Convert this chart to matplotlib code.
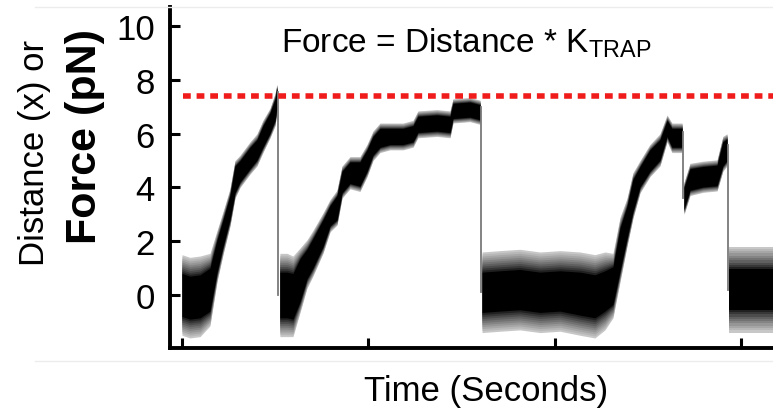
import matplotlib
matplotlib.use("Agg")
import matplotlib.pyplot as plt
from matplotlib.lines import Line2D

plt.rcParams["font.family"] = ["Liberation Sans", "DejaVu Sans"]
plt.rcParams["mathtext.fontset"] = "custom"
plt.rcParams["mathtext.rm"] = "Liberation Sans"

# trap force trace, one list set per pull (time in s, force in pN)
# mid = trace centre, core = half-width of the dense part, env = half-width of the noise envelope
pull1_t = [0.0, 0.43, 0.97, 1.50, 1.88, 2.20, 2.57, 2.84, 3.11, 3.65, 4.02, 4.34, 4.72, 4.99, 5.09]
pull1_mid = [0.0, -0.1, -0.05, 0.2, 1.45, 2.3, 3.25, 4.3, 4.6, 5.1, 5.4, 5.9, 6.4, 6.9, 7.35]
pull1_core = [0.8, 0.8, 0.8, 0.8, 0.6, 0.5, 0.45, 0.5, 0.4, 0.4, 0.38, 0.4, 0.38, 0.4, 0.35]
pull1_env = [1.5, 1.5, 1.5, 1.35, 0.95, 0.8, 0.7, 0.7, 0.6, 0.6, 0.6, 0.6, 0.55, 0.6, 0.5]

pull2_t = [5.25, 5.63, 5.95, 6.33, 6.70, 7.02, 7.56, 7.94, 8.31, 8.58, 9.01, 9.54, 9.92,
           10.24, 10.62, 11.15, 11.85, 12.39, 12.65, 13.67, 14.37, 14.53, 15.44, 15.98]
pull2_mid = [0.0, 0.0, -0.05, 0.55, 1.15, 1.55, 2.3, 2.95, 3.25, 4.2, 4.55, 4.5, 5.0,
             5.55, 5.85, 5.9, 5.9, 6.0, 6.35, 6.4, 6.35, 6.85, 6.9, 6.8]
pull2_core = [0.85, 0.85, 0.85, 0.8, 0.55, 0.55, 0.5, 0.38, 0.45, 0.4, 0.4, 0.45, 0.4,
              0.35, 0.35, 0.3, 0.3, 0.3, 0.3, 0.3, 0.3, 0.28, 0.28, 0.28]
pull2_env = [1.55, 1.55, 1.5, 1.2, 0.9, 0.85, 0.75, 0.6, 0.65, 0.6, 0.6, 0.65, 0.6,
             0.55, 0.55, 0.5, 0.5, 0.5, 0.5, 0.5, 0.5, 0.45, 0.45, 0.45]

pull3_t = [16.09, 17.05, 18.12, 19.20, 20.27, 21.34, 22.14, 22.68, 23.11, 23.49, 23.86,
           24.18, 24.56, 25.09, 25.63, 26.01, 26.27, 26.81]
pull3_mid = [0.1, 0.15, 0.2, 0.1, 0.15, 0.05, -0.05, 0.15, 0.35, 1.7, 2.7,
             3.7, 4.4, 5.0, 5.4, 6.2, 5.85, 5.85]
pull3_core = [0.75, 0.75, 0.75, 0.75, 0.75, 0.8, 0.8, 0.75, 0.7, 0.8, 0.6,
              0.6, 0.38, 0.4, 0.38, 0.3, 0.35, 0.35]
pull3_env = [1.5, 1.5, 1.5, 1.5, 1.5, 1.55, 1.55, 1.45, 1.2, 1.2, 0.9,
             0.85, 0.6, 0.6, 0.6, 0.5, 0.55, 0.55]

pull4_t = [26.92, 27.24, 27.94, 28.69, 29.00, 29.22]
pull4_mid = [3.6, 4.3, 4.4, 4.45, 5.25, 5.4]
pull4_core = [0.4, 0.4, 0.38, 0.38, 0.45, 0.4]
pull4_env = [0.6, 0.6, 0.58, 0.58, 0.65, 0.6]

rest_t = [29.33, 30.45, 31.69]
rest_mid = [0.2, 0.2, 0.2]
rest_core = [0.75, 0.75, 0.75]
rest_env = [1.6, 1.6, 1.6]

pieces = [
    (pull1_t, pull1_mid, pull1_core, pull1_env),
    (pull2_t, pull2_mid, pull2_core, pull2_env),
    (pull3_t, pull3_mid, pull3_core, pull3_env),
    (pull4_t, pull4_mid, pull4_core, pull4_env),
    (rest_t, rest_mid, rest_core, rest_env),
]

trap_limit = 7.4          # pN, dashed red line
limit_start = 0.05
y_ticks = [0, 2, 4, 6, 8, 10]
x_ticks = [0, 10, 20, 30]

# shade the band from light grey at the envelope to black at the core
n_shades = 10
shades = []
for i in range(n_shades + 1):
    frac = 1.0 - i / n_shades
    grey = 0.78 * frac ** 0.8
    shades.append((frac, (grey, grey, grey)))


fig = plt.figure(figsize=(7.73, 4.10), dpi=100)
ax = fig.add_axes([0.22, 0.149, 0.78, 0.831])

for t, mid, core, env in pieces:
    for frac, col in shades:
        w = [c + frac * (e - c) for c, e in zip(core, env)]
        lo = [m - h for m, h in zip(mid, w)]
        hi = [m + h for m, h in zip(mid, w)]
        ax.fill_between(t, lo, hi, color=col, lw=0)

# release / slip jumps between pulls
for (t_a, m_a, _, _), (t_b, m_b, _, _) in zip(pieces[:-1], pieces[1:]):
    tx = 0.5 * (t_a[-1] + t_b[0])
    ax.plot([tx, tx], [m_a[-1] + 0.2, m_b[0]], color="#7a7a7a", lw=1.3)

ax.plot([limit_start, 31.69], [trap_limit, trap_limit], color="#f01c1c",
        lw=4.0, linestyle=(0, (1.4, 1.05)), dash_capstyle="butt")

ax.set_xlim(-0.64, 31.69)
ax.set_ylim(-1.97, 10.71)
ax.set_yticks(y_ticks)
ax.set_xticks(x_ticks)
ax.set_xticklabels([])
ax.tick_params(axis="both", direction="in", length=7, width=2.2)
ax.tick_params(axis="y", labelsize=25, pad=11)
for side in ("top", "right"):
    ax.spines[side].set_visible(False)
for side in ("left", "bottom"):
    ax.spines[side].set_linewidth(2.8)

fig.text(0.603, 0.871, r"Force = Distance * $\mathregular{K_{TRAP}}$",
         fontsize=24, ha="center", va="baseline")
fig.text(0.629, 0.022, "Time (Seconds)", fontsize=25, ha="center", va="baseline")
fig.text(0.044, 0.627, "Distance (x) or", fontsize=25, rotation=90,
         ha="center", va="center")
fig.text(0.110, 0.666, "Force (pN)", fontsize=31, fontweight="bold",
         rotation=90, ha="center", va="center")

# faint frame rules above and below the panel
for yy in (1 - 8 / 410, 1 - 362 / 410):
    fig.add_artist(Line2D([0.045, 1.0], [yy, yy], color="#ececec", lw=1.0))

fig.savefig("out.png", dpi=100)
